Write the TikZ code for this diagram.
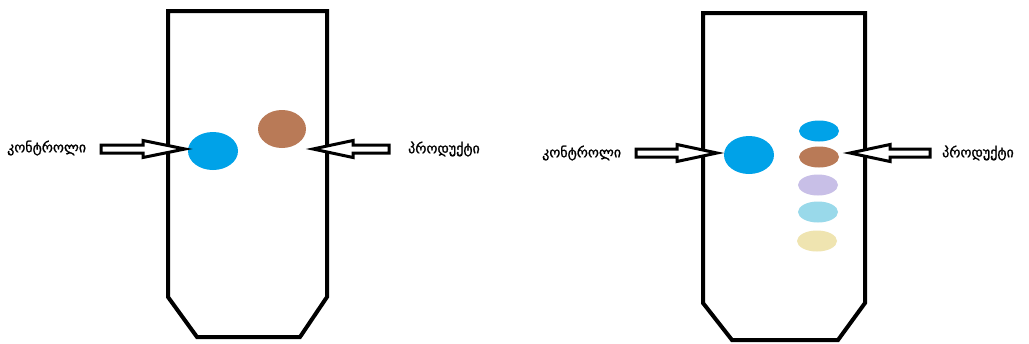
\documentclass[tikz,border=0pt]{standalone}
\usepackage{fontspec}
\newfontfamily\geofont[Script=Georgian,FakeBold=1.2]{DejaVu Sans}
\definecolor{spotblue}{HTML}{00A2E8}
\definecolor{spotbrown}{HTML}{B97A57}
\definecolor{spotlav}{HTML}{C8BFE7}
\definecolor{spotturq}{HTML}{99D9EA}
\definecolor{spotyellow}{HTML}{EFE4B0}
\newcommand\hollowarrow[4]{%
  \draw[arrowline] (#1,-#4+4) -- (#2,-#4+4) -- (#2,-#4+8.5) -- (#3,-#4)
    -- (#2,-#4-8.5) -- (#2,-#4-4) -- (#1,-#4-4) -- cycle;}
\begin{document}
\begin{tikzpicture}[x=1pt,y=1pt,
  plate/.style={draw=black,line width=4pt,line join=miter,fill=white},
  arrowline/.style={draw=black,line width=3pt,line join=miter,miter limit=20,fill=white},
  spot/.style={draw=none,ellipse},
  lbl/.style={font=\geofont\fontsize{14}{16}\selectfont,inner sep=0pt,anchor=west}]
\useasboundingbox (0,0) rectangle (1029,-343);
% left plate
\draw[plate] (168,-11) -- (327,-11) -- (327,-297) -- (300,-337) -- (197,-337) -- (168,-297) -- cycle;
\fill[spotblue] (213,-151) ellipse [x radius=25, y radius=19];
\fill[spotbrown] (282,-129) ellipse [x radius=24, y radius=19];
\node[lbl] (c1) at (7,-148) {კონტროლი};
\node[lbl] (p1) at (408,-149) {პროდუქტი};
\hollowarrow{101}{143}{185}{149}
\hollowarrow{389}{353}{313}{149}
% right plate
\draw[plate] (703,-13) -- (865,-13) -- (865,-303) -- (838,-340) -- (732,-340) -- (703,-303) -- cycle;
\fill[spotblue] (749,-155) ellipse [x radius=25, y radius=19];
\fill[spotblue] (819,-131) ellipse [x radius=20, y radius=10.5];
\fill[spotbrown] (819,-157) ellipse [x radius=20, y radius=10.5];
\fill[spotlav] (818,-185) ellipse [x radius=20, y radius=10.5];
\fill[spotturq] (818,-212) ellipse [x radius=20, y radius=10.5];
\fill[spotyellow] (817,-241) ellipse [x radius=20, y radius=10.5];
\node[lbl] (c2) at (542,-153) {კონტროლი};
\node[lbl] (p2) at (942,-153) {პროდუქტი};
\hollowarrow{636}{677}{717}{153}
\hollowarrow{930}{890}{850}{153}
\end{tikzpicture}
\end{document}
